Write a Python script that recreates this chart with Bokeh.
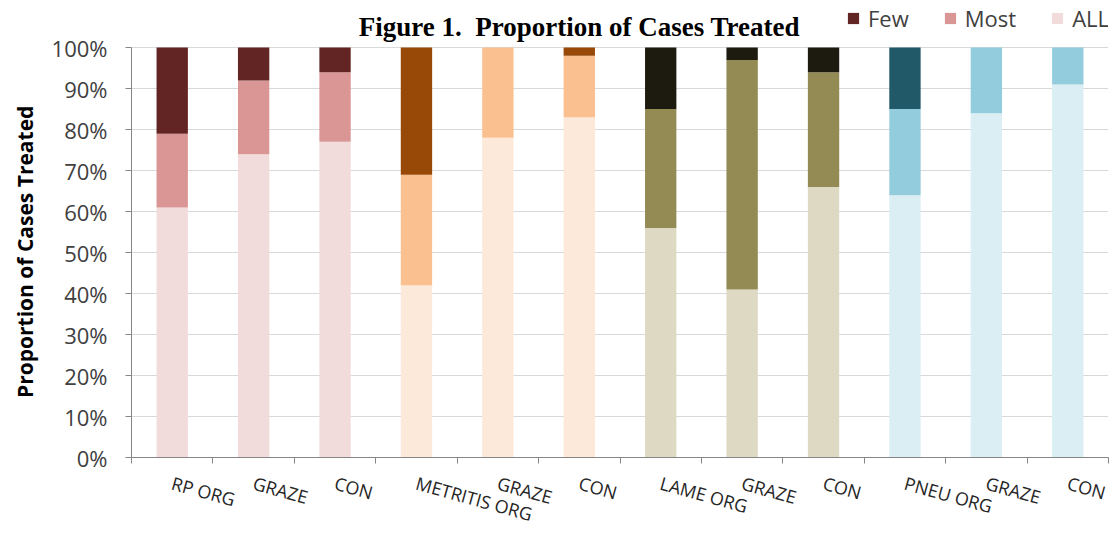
from bokeh.plotting import figure
from bokeh.models import (FixedTicker, Legend, LegendItem, Label, PrintfTickFormatter,
                          ColumnDataSource, Range1d)
from bokeh.embed import file_html
from bokeh.resources import INLINE

categories = ["RP ORG", "GRAZE", "CON", "METRITIS ORG", "GRAZE", "CON",
              "LAME ORG", "GRAZE", "CON", "PNEU ORG", "GRAZE", "CON"]
all_pct = [61, 74, 77, 42, 78, 83, 56, 41, 66, 64, 84, 91]
most_pct = [18, 18, 17, 27, 22, 15, 29, 56, 28, 21, 16, 9]
few_pct = [21, 8, 6, 31, 0, 2, 15, 3, 6, 15, 0, 0]
y_ticks = [0, 10, 20, 30, 40, 50, 60, 70, 80, 90, 100]
title_text = "Figure 1.\u00a0\u00a0Proportion of Cases Treated"
y_label = "Proportion of Cases Treated"

group_all = ["#F2DCDB", "#FDE9D9", "#DDD9C3", "#DBEEF3"]
group_most = ["#D99694", "#FAC090", "#948A54", "#93CDDD"]
group_few = ["#632523", "#984807", "#1D1B10", "#215968"]

n = len(categories)
xs = list(range(n))
all_top = [a for a in all_pct]
most_top = [a + m for a, m in zip(all_pct, most_pct)]
few_top = [a + m + f for a, m, f in zip(all_pct, most_pct, few_pct)]
src = ColumnDataSource(dict(
    x=xs, zero=[0] * n, all_top=all_top, most_top=most_top, few_top=few_top,
    c_all=[group_all[i // 3] for i in xs],
    c_most=[group_most[i // 3] for i in xs],
    c_few=[group_few[i // 3] for i in xs],
))

p = figure(frame_width=977, frame_height=455, x_range=Range1d(-0.5, 11.5), y_range=Range1d(0, 111),
           output_backend="svg", toolbar_location=None,
           min_border_left=131, min_border_top=2, min_border_right=8, min_border_bottom=20)
p.outline_line_color = None
p.background_fill_color = "white"

bw = 0.385
r_all = p.vbar(x="x", bottom="zero", top="all_top", width=bw, source=src,
               fill_color="c_all", line_color=None)
r_most = p.vbar(x="x", bottom="all_top", top="most_top", width=bw, source=src,
                fill_color="c_most", line_color=None)
r_few = p.vbar(x="x", bottom="most_top", top="few_top", width=bw, source=src,
               fill_color="c_few", line_color=None)

# x axis
p.xaxis.ticker = FixedTicker(ticks=xs, minor_ticks=[i - 0.5 for i in range(n + 1)])
p.xaxis.major_label_overrides = {i: c for i, c in enumerate(categories)}
p.xaxis.major_tick_out = 0
p.xaxis.major_tick_in = 0
p.xaxis.minor_tick_out = 6
p.xaxis.minor_tick_in = 0
p.xaxis.minor_tick_line_color = "#868686"
p.xaxis.axis_line_color = "#868686"
p.xaxis.major_label_orientation = -0.27
p.xaxis.major_label_standoff = 19
p.xaxis.major_label_text_font = "Open Sans"
p.xaxis.major_label_text_font_size = "18px"
p.xaxis.major_label_text_color = "#262626"
p.xgrid.visible = False

# y axis
p.yaxis.ticker = FixedTicker(ticks=y_ticks)
p.yaxis.bounds = (0, 100)
p.yaxis.formatter = PrintfTickFormatter(format="%d%%")
p.yaxis.major_tick_out = 6
p.yaxis.major_tick_in = 0
p.yaxis.minor_tick_line_color = None
p.yaxis.axis_line_color = "#868686"
p.yaxis.major_tick_line_color = "#868686"
p.yaxis.major_label_standoff = 18
p.yaxis.major_label_text_font = "Open Sans"
p.yaxis.major_label_text_font_size = "22px"
p.yaxis.major_label_text_color = "#404040"
p.yaxis.axis_label = y_label + "\u00a0" * 8
p.yaxis.axis_label_text_font = "Open Sans"
p.yaxis.axis_label_text_font_style = "bold"
p.yaxis.axis_label_text_font_size = "21px"
p.yaxis.axis_label_text_color = "black"
p.yaxis.axis_label_standoff = 10
p.ygrid.grid_line_color = "#d9d9d9"
p.ygrid.grid_line_width = 1

p.add_layout(Label(x=5.0, y=105.0, text=title_text,
                   text_align="center", text_baseline="middle",
                   text_font="Liberation Serif", text_font_style="bold",
                   text_font_size="27px", text_color="black"))

legend = Legend(items=[LegendItem(label="Few", renderers=[r_few], index=0),
                       LegendItem(label="Most", renderers=[r_most], index=0),
                       LegendItem(label="ALL", renderers=[r_all], index=0)],
                orientation="horizontal", location=(715, 424),
                border_line_color=None, background_fill_alpha=0,
                padding=0, margin=0, spacing=34, glyph_width=14, glyph_height=14,
                label_standoff=8, label_text_font="Open Sans", label_text_font_size="22px",
                label_text_color="#404040")
p.add_layout(legend)

open("out.html", "w").write(file_html(p, INLINE))
